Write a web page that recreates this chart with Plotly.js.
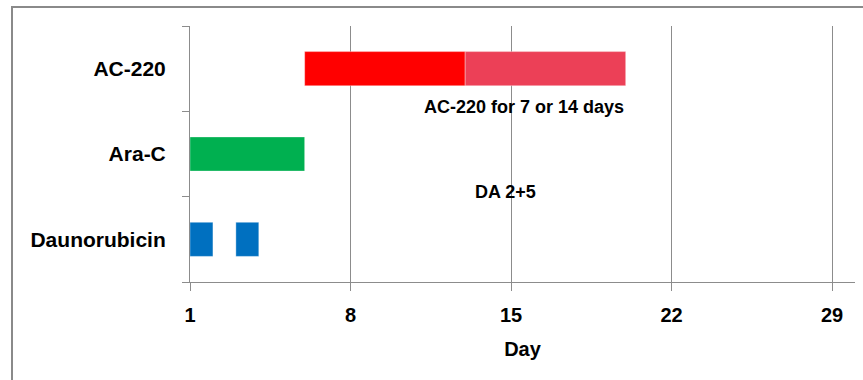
<!DOCTYPE html>
<html>
<head>
<meta charset="utf-8">
<script src="https://cdn.plot.ly/plotly-3.0.1.min.js"></script>
<style>
  html, body { margin: 0; padding: 0; background: #ffffff; overflow: hidden; }
  #wrap { position: relative; width: 863px; height: 380px; overflow: hidden; }
  #chart { width: 863px; height: 380px; }
  /* grey frame around the chart area: only its top and left edges fall inside the page */
  #frame {
    position: absolute; left: 11px; top: 6px; width: 900px; height: 420px;
    border-left: 2px solid #8a8a8a; border-top: 2px solid #8a8a8a;
    pointer-events: none;
  }
</style>
</head>
<body>
<div id="wrap">
  <div id="chart"></div>
  <div id="frame"></div>
</div>
<script>
// Treatment schedule: each bar starts on a day and lasts a number of days
const drugs = ['Daunorubicin', 'Ara-C', 'AC-220'];

const daunoStart = [1, 3];
const daunoDays = [1, 1];

const araCStart = [1];
const araCDays = [5];

const ac220Start = [6];
const ac220Days = [7];

const ac220ExtStart = [13];
const ac220ExtDays = [7];

const dayTicks = [1, 8, 15, 22, 29];
const dayRange = [1, 30];

const FONT = '"Liberation Sans", Arial, sans-serif';
const AXIS_GREY = '#8c8c8c';

function segment(name, row, starts, days, color) {
  return {
    type: 'bar',
    orientation: 'h',
    name: name,
    y: starts.map(() => row),
    x: days,
    base: starts,
    width: starts.map(() => 0.4),
    marker: { color: color, line: { color: 'rgba(255,255,255,0.35)', width: 1 } },
    hoverinfo: 'skip',
    showlegend: false
  };
}

const traces = [
  segment('Daunorubicin', 'Daunorubicin', daunoStart, daunoDays, '#0070C0'),
  segment('Ara-C', 'Ara-C', araCStart, araCDays, '#00B050'),
  segment('AC-220 (7 days)', 'AC-220', ac220Start, ac220Days, '#FF0000'),
  segment('AC-220 (14 days)', 'AC-220', ac220ExtStart, ac220ExtDays, '#EC4057')
];

const layout = {
  width: 863,
  height: 380,
  margin: { l: 190, r: 8, t: 26, b: 98 },
  paper_bgcolor: '#ffffff',
  plot_bgcolor: '#ffffff',
  barmode: 'overlay',
  font: { family: FONT, color: '#000000' },
  xaxis: {
    range: dayRange,
    tickvals: dayTicks,
    ticktext: dayTicks.map(String),
    showgrid: true,
    gridcolor: AXIS_GREY,
    gridwidth: 1,
    zeroline: false,
    showline: true,
    linecolor: AXIS_GREY,
    linewidth: 1,
    ticks: 'outside',
    ticklen: 8,
    tickcolor: AXIS_GREY,
    ticklabelstandoff: 7,
    tickfont: { family: FONT, size: 20, color: '#000000', weight: 'bold' },
    title: { text: 'Day', font: { family: FONT, size: 20, color: '#000000', weight: 'bold' }, standoff: 16 },
    fixedrange: true
  },
  yaxis: {
    type: 'category',
    categoryorder: 'array',
    categoryarray: drugs,
    range: [-0.5, 2.5],
    showgrid: false,
    zeroline: false,
    showline: true,
    linecolor: AXIS_GREY,
    linewidth: 1,
    ticks: 'outside',
    tickson: 'boundaries',
    ticklen: 7,
    tickcolor: AXIS_GREY,
    ticklabelstandoff: 19,
    tickfont: { family: FONT, size: 21, color: '#000000', weight: 'bold' },
    fixedrange: true
  },
  annotations: [
    {
      text: 'AC-220 for 7 or 14 days',
      x: 15.57, y: 1.555, xref: 'x', yref: 'y',
      showarrow: false,
      font: { family: FONT, size: 18, color: '#000000', weight: 'bold' }
    },
    {
      text: 'DA 2+5',
      x: 14.75, y: 0.55, xref: 'x', yref: 'y',
      showarrow: false,
      font: { family: FONT, size: 18, color: '#000000', weight: 'bold' }
    }
  ]
};

Plotly.newPlot('chart', traces, layout, { displayModeBar: false, staticPlot: true });
</script>
</body>
</html>
